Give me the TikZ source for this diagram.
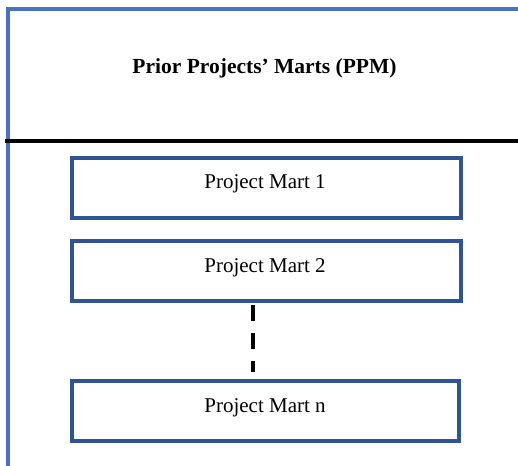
\documentclass[tikz,border=0pt]{standalone}
\usepackage{fontspec}
\setmainfont{Liberation Serif}
\definecolor{frameblue}{HTML}{4472C4}
\definecolor{boxblue}{HTML}{2F5496}
\begin{document}
\begin{tikzpicture}[x=1bp,y=-1bp,
  mart/.style={draw=boxblue,line width=4bp,minimum width=389bp,minimum height=60bp,inner sep=0pt,outer sep=0pt,anchor=north west},
  marttext/.style={anchor=base,font=\fontsize{21bp}{25bp}\selectfont,inner sep=0pt},
  framel/.style={draw=frameblue,line width=4bp,line cap=butt,line join=miter},
  sepline/.style={draw=black,line width=4bp},
  dashline/.style={draw=black,line width=4bp,dash pattern=on 16bp off 12bp}]
\useasboundingbox (0,0) rectangle (518,466);
% frame
\coordinate (fbl) at (8,466);
\coordinate (ftl) at (8,8.7);
\coordinate (ftr) at (518,8.7);
\draw[framel] (fbl) -- (ftl) -- (ftr);
% separator
\coordinate (sl) at (5,141);
\coordinate (sr) at (518,141);
\draw[sepline] (sl) -- (sr);
% title
\node[anchor=base,inner sep=0pt,font=\fontsize{21.5bp}{26bp}\selectfont\bfseries] (title) at (264.5,74) {Prior Projects’ Marts (PPM)};
% boxes
\node[mart] (m1) at (72,158) {};
\node[mart] (m2) at (72,241) {};
\node[mart,minimum width=387bp] (mn) at (72,381) {};
\node[marttext] (t1) at (265,189) {Project Mart 1};
\node[marttext] (t2) at (265,272) {Project Mart 2};
\node[marttext] (tn) at (265,412.5) {Project Mart n};
% dashed connector
\coordinate (dtop) at ([xshift=-13.5bp,yshift=-4bp]m2.south);
\coordinate (dbot) at (dtop |- mn.north);
\draw[dashline] (dtop) -- ([yshift=9bp]dbot);
\end{tikzpicture}
\end{document}
